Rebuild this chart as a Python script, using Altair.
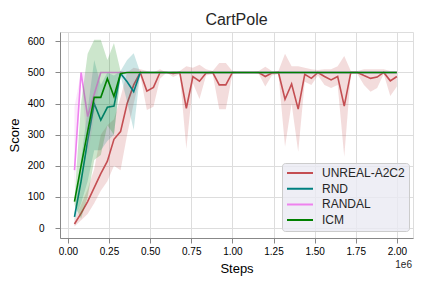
import altair as alt
import pandas as pd

steps_k = [40, 80, 120, 160, 200, 240, 280, 320, 360, 400,
           440, 480, 520, 560, 600, 640, 680, 720, 760, 800,
           840, 880, 920, 960, 1000, 1040, 1080, 1120, 1160, 1200,
           1240, 1280, 1320, 1360, 1400, 1440, 1480, 1520, 1560, 1600,
           1640, 1680, 1720, 1760, 1800, 1840, 1880, 1920, 1960, 2000]

unreal_mean = [13, 47, 85, 130, 175, 215, 285, 310, 400, 460,
               500, 440, 452, 500, 500, 497, 500, 385, 487, 472,
               498, 500, 460, 460, 500, 500, 500, 500, 500, 487,
               498, 500, 414, 463, 382, 494, 481, 500, 487, 476,
               487, 392, 500, 500, 490, 481, 485, 500, 473, 487]
unreal_lo = [5, 25, 45, 80, 120, 150, 200, 186, 300, 400,
             490, 379, 390, 480, 500, 485, 495, 255, 465, 415,
             490, 495, 382, 382, 495, 500, 500, 500, 495, 455,
             490, 495, 261, 400, 245, 470, 460, 490, 460, 450,
             460, 229, 495, 495, 460, 438, 450, 495, 424, 455]
unreal_hi = [25, 75, 125, 190, 300, 330, 350, 420, 500, 515,
             510, 505, 500, 510, 500, 505, 505, 520, 515, 525,
             510, 505, 530, 530, 505, 500, 500, 500, 505, 518,
             505, 505, 560, 520, 520, 515, 510, 508, 510, 510,
             520, 553, 505, 505, 510, 510, 510, 510, 505, 505]

rnd_mean = [36, 150, 280, 400, 347, 388, 392, 497, 470, 438,
            500, 500, 500, 500, 500, 500, 500, 500, 500, 500,
            500, 500, 500, 500, 500, 500, 500, 500, 500, 500,
            500, 500, 500, 500, 500, 500, 500, 500, 500, 500,
            500, 500, 500, 500, 500, 500, 500, 500, 500, 500]
rnd_lo = [25, 80, 150, 250, 250, 280, 300, 490, 406, 315,
          500, 500, 500, 500, 500, 500, 500, 500, 500, 500,
          500, 500, 500, 500, 500, 500, 500, 500, 500, 500,
          500, 500, 500, 500, 500, 500, 500, 500, 500, 500,
          500, 500, 500, 500, 500, 500, 500, 500, 500, 500]
rnd_hi = [50, 220, 380, 540, 460, 500, 490, 505, 540, 562,
          500, 500, 500, 500, 500, 500, 500, 500, 500, 500,
          500, 500, 500, 500, 500, 500, 500, 500, 500, 500,
          500, 500, 500, 500, 500, 500, 500, 500, 500, 500,
          500, 500, 500, 500, 500, 500, 500, 500, 500, 500]

randal_mean = [186, 500, 358, 430, 500, 500, 500, 500, 500, 500,
               500, 500, 500, 500, 500, 500, 500, 500, 500, 500,
               500, 500, 500, 500, 500, 500, 500, 500, 500, 500,
               500, 500, 500, 500, 500, 500, 500, 500, 500, 500,
               500, 500, 500, 500, 500, 500, 500, 500, 500, 500]
randal_lo = [120, 500, 230, 360, 500, 500, 500, 500, 500, 500,
             500, 500, 500, 500, 500, 500, 500, 500, 500, 500,
             500, 500, 500, 500, 500, 500, 500, 500, 500, 500,
             500, 500, 500, 500, 500, 500, 500, 500, 500, 500,
             500, 500, 500, 500, 500, 500, 500, 500, 500, 500]
randal_hi = [390, 500, 500, 500, 500, 500, 500, 500, 500, 500,
             500, 500, 500, 500, 500, 500, 500, 500, 500, 500,
             500, 500, 500, 500, 500, 500, 500, 500, 500, 500,
             500, 500, 500, 500, 500, 500, 500, 500, 500, 500,
             500, 500, 500, 500, 500, 500, 500, 500, 500, 500]

icm_mean = [85, 200, 310, 420, 420, 480, 423, 497, 500, 500,
            500, 500, 500, 500, 500, 500, 500, 500, 500, 500,
            500, 500, 500, 500, 500, 500, 500, 500, 500, 500,
            500, 500, 500, 500, 500, 500, 500, 500, 500, 500,
            500, 500, 500, 500, 500, 500, 500, 500, 500, 500]
icm_lo = [75, 30, 100, 219, 235, 330, 300, 490, 500, 500,
          500, 500, 500, 500, 500, 500, 500, 500, 500, 500,
          500, 500, 500, 500, 500, 500, 500, 500, 500, 500,
          500, 500, 500, 500, 500, 500, 500, 500, 500, 500,
          500, 500, 500, 500, 500, 500, 500, 500, 500, 500]
icm_hi = [95, 400, 560, 605, 605, 540, 595, 505, 500, 500,
          500, 500, 500, 500, 500, 500, 500, 500, 500, 500,
          500, 500, 500, 500, 500, 500, 500, 500, 500, 500,
          500, 500, 500, 500, 500, 500, 500, 500, 500, 500,
          500, 500, 500, 500, 500, 500, 500, 500, 500, 500]

names = ["UNREAL-A2C2", "RND", "RANDAL", "ICM"]
colors = ["#c44e52", "#008080", "#ee82ee", "#008000"]
x_ticks = [0, 250000, 500000, 750000, 1000000, 1250000, 1500000, 1750000, 2000000]
y_ticks = [0, 100, 200, 300, 400, 500, 600]

series = [
    ("UNREAL-A2C2", unreal_mean, unreal_lo, unreal_hi),
    ("RND", rnd_mean, rnd_lo, rnd_hi),
    ("RANDAL", randal_mean, randal_lo, randal_hi),
    ("ICM", icm_mean, icm_lo, icm_hi),
]

rows = []
for name, m, lo, hi in series:
    for s, a, b, c in zip(steps_k, m, lo, hi):
        rows.append({"step": s * 1000, "algo": name, "mean": a, "lo": b, "hi": c})
df = pd.DataFrame(rows)

FONT = "Liberation Sans"
TXT = "#262626"

x_enc = alt.X(
    "step:Q",
    scale=alt.Scale(domain=[-48000, 2098000], nice=False, zero=False),
    axis=alt.Axis(values=x_ticks, labelExpr="format(datum.value / 1000000, '.2f')",
                  title="Steps", labelPadding=3, labelBaseline="top",
                  titleY=34, titleBaseline="alphabetic",
                  titleFontWeight="normal", titleFont=FONT, titleFontSize=13),
)
y_scale = alt.Scale(domain=[-32, 630], nice=False, zero=False)
y_axis = alt.Axis(values=y_ticks, title="Score", labelPadding=11, titlePadding=6,
                  titleFontWeight="normal", titleFont=FONT, titleFontSize=13)

legend = alt.Legend(
    title=None, orient="none", legendX=222, legendY=131,
    symbolType="stroke", symbolSize=676, symbolStrokeWidth=2, clipHeight=12,
    rowPadding=3.7, labelOffset=8, padding=4,
    fillColor="rgba(234,234,242,0.8)", strokeColor="#cccccc", cornerRadius=3,
    labelFontSize=12, labelFont=FONT, labelColor=TXT,
)

layers = []
for (name, _, _, _), col in zip(series, colors):
    sub = df[df["algo"] == name]
    band = alt.Chart(sub).mark_area(opacity=0.2, color=col, clip=True).encode(
        x=x_enc,
        y=alt.Y("lo:Q", scale=y_scale, axis=y_axis),
        y2="hi:Q",
    )
    line = alt.Chart(sub).mark_line(strokeWidth=1.6, clip=True).encode(
        x=x_enc,
        y=alt.Y("mean:Q", scale=y_scale, axis=y_axis),
        color=alt.Color("algo:N", scale=alt.Scale(domain=names, range=colors), legend=legend),
    )
    layers += [band, line]

offset_text = alt.Chart(pd.DataFrame({"t": ["1e6"]})).mark_text(
    align="right", baseline="alphabetic", fontSize=10, font=FONT, color=TXT
).encode(text="t:N", x=alt.value(352), y=alt.value(236))
layers.append(offset_text)

chart = alt.layer(*layers).properties(
    width=353, height=206,
    padding={"left": 52, "top": 24, "right": 11, "bottom": 42},
    autosize="none",
    title=alt.Title("CartPole", fontSize=16, font=FONT, fontWeight="normal", color=TXT, offset=4),
).configure_view(
    fill="#eaeaf2", strokeWidth=0
).configure_axis(
    grid=True, gridColor="white", gridWidth=1, domain=False, ticks=False,
    labelFont=FONT, labelFontSize=10, labelColor=TXT,
    titleFont=FONT, titleFontSize=13, titleFontWeight="normal", titleColor=TXT,
).configure(background="white")

chart.save("out.html", embed_options={"renderer": "svg", "actions": False})
